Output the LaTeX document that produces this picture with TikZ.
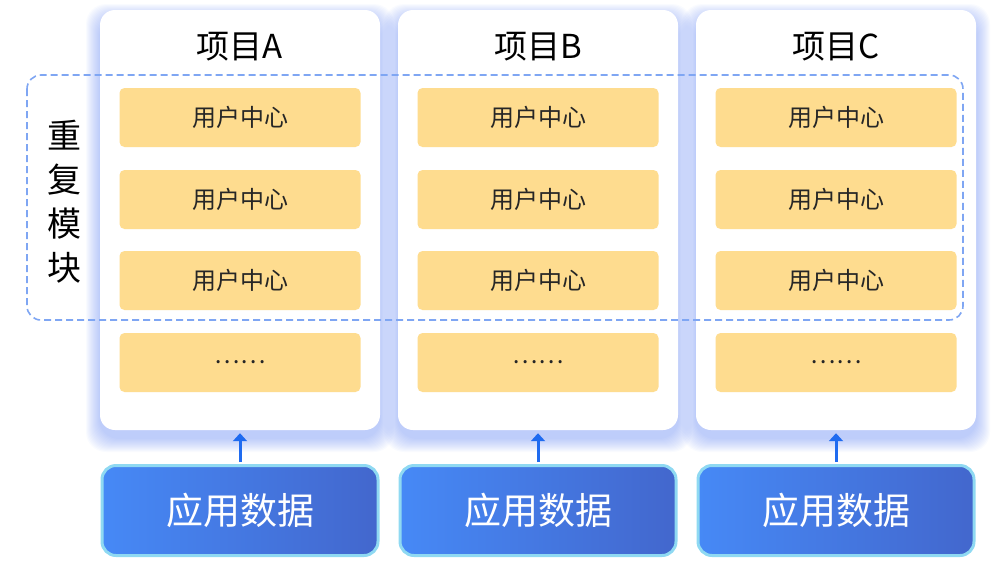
\documentclass[tikz,border=0pt]{standalone}
\usepackage{fontspec}
\setmainfont{Noto Sans CJK SC}
\usetikzlibrary{arrows.meta}

\definecolor{modfill}{HTML}{FEDC8F}
\definecolor{glowblue}{HTML}{5C80F2}
\definecolor{dashblue}{HTML}{7FA6F3}
\definecolor{arrowblue}{HTML}{1F6BF0}
\definecolor{datal}{HTML}{4689F6}
\definecolor{datar}{HTML}{4367CD}
\definecolor{databorder}{HTML}{8FD9F2}

\tikzset{
    panel/.style={fill=white, rounded corners=15pt, minimum width=280pt, minimum height=420pt},
    title/.style={font=\fontsize{33}{36}\selectfont},
    module/.style={fill=modfill, rounded corners=5pt, minimum width=241pt, minimum height=59pt,
        font=\fontsize{24}{26}\selectfont, text=black!85},
    datanode/.style={left color=datal, right color=datar, draw=databorder, line width=3pt,
        rounded corners=14pt, minimum width=276pt, minimum height=90pt,
        text=white, font=\fontsize{37}{40}\selectfont},
    link/.style={arrowblue, line width=3pt, -{Triangle[length=8pt,width=14pt]},
        shorten <=2pt, shorten >=3pt}
}

\begin{document}
\begin{tikzpicture}[x=1pt,y=-1pt]
    \useasboundingbox (0,0) rectangle (1000,573);

    \foreach \x in {240,538,836} {
        \foreach \i in {1,...,14} {
            \fill[glowblue, opacity=0.035, rounded corners=20pt]
                (\x-140-\i,10-\i+8) rectangle (\x+140+\i,430+\i+8);
        }
    }

    \foreach \p/\x/\t in {A/240/项目A, B/538/项目B, C/836/项目C} {
        \node[panel] (p\p) at (\x,220) {};
        \node[title] (t\p) at (\x,47) {\t};
        \node[module] (m\p1) at (\x,117.5) {用户中心};
        \node[module] (m\p2) at (\x,199.5) {用户中心};
        \node[module] (m\p3) at (\x,280.5) {用户中心};
        \node[module] (m\p4) at (\x,362.5) {……};
        \node[datanode] (d\p) at (\x,510.5) {应用数据};
        \draw[link] (d\p.north) -- (p\p.south);
    }

    \draw[dashblue, line width=1.6pt, dash pattern=on 7pt off 4pt, rounded corners=14pt]
        (27,75) rectangle (963,320);
    \node[align=center, font=\fontsize{34}{44}\selectfont] (rep) at (64,202) {重\\复\\模\\块};
\end{tikzpicture}
\end{document}
